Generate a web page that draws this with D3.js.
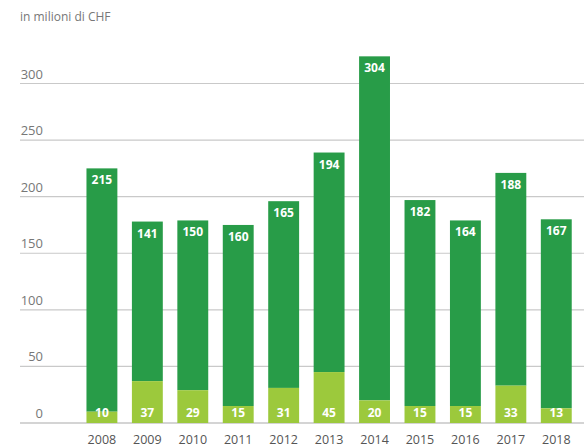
<!DOCTYPE html>
<html>
<head>
<meta charset="utf-8">
<script src="https://cdn.jsdelivr.net/npm/d3@7"></script>
<style>
  body { margin: 0; background: #fff; }
  svg { display: block; font-family: "Open Sans", "DejaVu Sans", sans-serif; }
</style>
</head>
<body>
<svg id="chart" width="584" height="448"></svg>
<script>
// dati
var years = ['2008','2009','2010','2011','2012','2013','2014','2015','2016','2017','2018'];
var lower = [10, 37, 29, 15, 31, 45, 20, 15, 15, 33, 13];
var upper = [215, 141, 150, 160, 165, 194, 304, 182, 164, 188, 167];
var yTicks = [0, 50, 100, 150, 200, 250, 300];

var darkGreen = '#289c48';
var lightGreen = '#9cc93c';

var svg = d3.select('#chart');

var x = d3.scaleBand()
  .domain(years)
  .range([79.2, 579])
  .paddingInner(0.32)
  .paddingOuter(0.16);

var y = d3.scaleLinear()
  .domain([0, 300])
  .range([423, 83.5]);

var rows = years.map(function(yr, i) {
  return { year: yr, lo: lower[i], hi: upper[i] };
});

// titolo
svg.append('text')
  .attr('x', 20).attr('y', 21)
  .attr('fill', '#777').attr('font-size', 12)
  .text('in milioni di CHF');

// griglia
svg.append('g').selectAll('line')
  .data(yTicks)
  .enter().append('line')
  .attr('x1', 20).attr('x2', 584)
  .attr('y1', function(d) { return y(d); })
  .attr('y2', function(d) { return y(d); })
  .attr('stroke', function(d) { return d === 0 ? '#aaa' : '#c9c9c9'; })
  .attr('stroke-width', 1.2);

svg.append('g').selectAll('text')
  .data(yTicks)
  .enter().append('text')
  .attr('x', 43)
  .attr('y', function(d) { return y(d) - 5; })
  .attr('text-anchor', 'end')
  .attr('fill', '#777').attr('font-size', 13)
  .text(function(d) { return d; });

var bars = svg.append('g').selectAll('g')
  .data(rows)
  .enter().append('g');

bars.append('rect')
  .attr('x', function(d) { return x(d.year); })
  .attr('width', x.bandwidth())
  .attr('y', function(d) { return y(d.lo + d.hi); })
  .attr('height', function(d) { return y(d.lo) - y(d.lo + d.hi); })
  .attr('fill', darkGreen);

bars.append('rect')
  .attr('x', function(d) { return x(d.year); })
  .attr('width', x.bandwidth())
  .attr('y', function(d) { return y(d.lo); })
  .attr('height', function(d) { return y(0) - y(d.lo); })
  .attr('fill', lightGreen);

bars.append('text')
  .attr('x', function(d) { return x(d.year) + x.bandwidth() / 2; })
  .attr('y', function(d) { return y(d.lo + d.hi) + 16; })
  .attr('text-anchor', 'middle')
  .attr('fill', '#fff').attr('font-size', 12).attr('font-weight', 'bold')
  .text(function(d) { return d.hi; });

bars.append('text')
  .attr('x', function(d) { return x(d.year) + x.bandwidth() / 2; })
  .attr('y', 416.5)
  .attr('text-anchor', 'middle')
  .attr('fill', '#fff').attr('font-size', 12).attr('font-weight', 'bold')
  .text(function(d) { return d.lo; });

// anni
svg.append('g').selectAll('text')
  .data(years)
  .enter().append('text')
  .attr('x', function(d) { return x(d) + x.bandwidth() / 2; })
  .attr('y', 444)
  .attr('text-anchor', 'middle')
  .attr('fill', '#555').attr('font-size', 12.5)
  .text(function(d) { return d; });
</script>
</body>
</html>
